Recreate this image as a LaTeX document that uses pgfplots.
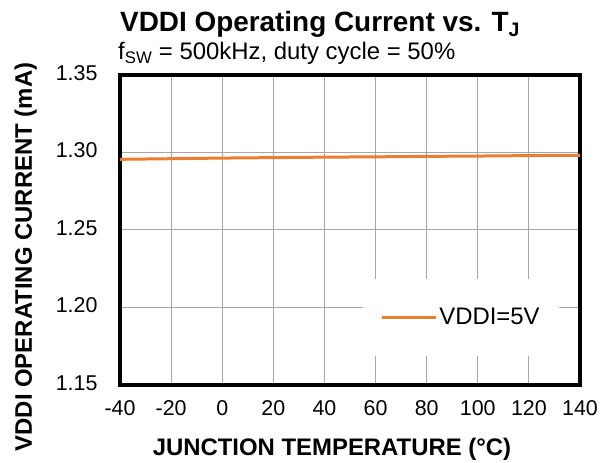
\documentclass[border=0pt]{standalone}
\usepackage{pgfplots}
\pgfplotsset{compat=1.18}
\usepackage{fontspec}
\setmainfont{Liberation Sans}
\definecolor{excelorange}{HTML}{ED7D31}
\definecolor{gridgray}{HTML}{A6A6A6}
\begin{document}
\begin{tikzpicture}
\useasboundingbox (-120bp,-78bp) rectangle (490bp,385bp);
\begin{axis}[
  at={(0bp,0bp)}, anchor=south west,
  scale only axis,
  width=460bp, height=310bp,
  xmin=-40, xmax=140, ymin=1.15, ymax=1.35,
  xtick={-40,-20,...,140},
  ytick={1.15,1.20,1.25,1.30,1.35},
  /pgf/number format/assume math mode=true,
  tick style={draw=none},
  grid=major,
  major grid style={gridgray, line width=1bp},
  axis line style={black, line width=3.5bp},
  ticklabel style={font=\fontsize{21.5}{25}\selectfont},
  xticklabel style={yshift=-12bp},
  yticklabel style={xshift=-19bp, yshift=2bp, /pgf/number format/.cd, fixed, fixed zerofill, precision=2},
  legend style={draw=none, fill=white, at={(341bp,67.5bp)}, anchor=center,
    font=\fontsize{24}{28}\selectfont, inner xsep=17bp, inner ysep=28bp},
  legend cell align=left,
  legend image code/.code={\draw[#1, line width=3bp] (0bp,0bp) -- (54bp,0bp);},
]
\addplot[excelorange, line width=3bp] coordinates {
  (-40,1.2956) (-20,1.2960) (0,1.2964) (20,1.2967) (40,1.2970)
  (60,1.2972) (80,1.2975) (100,1.2977) (120,1.2980) (140,1.2982)
};
\addlegendentry{VDDI=5V}
\end{axis}
\node[anchor=base west, font=\fontsize{28}{32}\selectfont\bfseries, inner sep=0pt] at (0bp,353bp) {VDDI Operating Current vs. T\textsubscript{J}};
\node[anchor=base west, font=\fontsize{24}{28}\selectfont, inner sep=0pt] at (-2bp,325bp) {f\textsubscript{SW} = 500kHz, duty cycle = 50\%};
\node[rotate=90, anchor=base, font=\fontsize{24}{28}\selectfont\bfseries, inner sep=0pt] at (-88bp,128bp) {VDDI OPERATING CURRENT (mA)};
\node[anchor=base, font=\fontsize{24}{28}\selectfont\bfseries, inner sep=0pt] at (212bp,-70bp) {JUNCTION TEMPERATURE (°C)};
\end{tikzpicture}
\end{document}
